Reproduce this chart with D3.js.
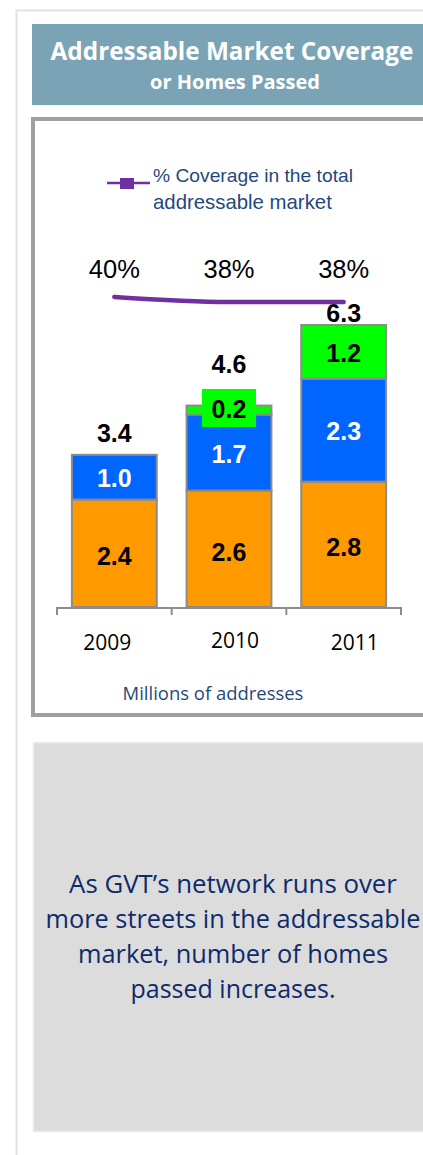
<!DOCTYPE html>
<html><head><meta charset="utf-8">
<script src="https://cdn.jsdelivr.net/npm/d3@7"></script>
<style>html,body{margin:0;padding:0;background:#fff;}svg{display:block;}</style>
</head><body>
<script>
const years = ["2009", "2010", "2011"];
const orangeVals = [2.4, 2.6, 2.8];
const blueVals = [1.0, 1.7, 2.3];
const greenVals = [0, 0.2, 1.2];
const totals = [3.4, 4.6, 6.3];
const coverage = [40, 38, 38];
const coverageLabels = ["40%", "38%", "38%"];
const titleLines = ["Addressable Market Coverage", "or Homes Passed"];
const legendLines = ["% Coverage in the total", "addressable market"];
const noteLines = ["As GVT\u2019s network runs over", "more streets in the addressable", "market, number of homes", "passed increases."];
const unitLabel = "Millions of addresses";

const W = 423, H = 1155;
const svg = d3.select("body").append("svg").attr("width", W).attr("height", H);
const calibri = "'Open Sans', Lato, sans-serif";
const arial = "'Liberation Sans', Arial, sans-serif";

// scale a text's font size so that it spans the target width
function fit(sel, target) {
  sel.each(function () {
    const fs = parseFloat(this.getAttribute("font-size"));
    const w = this.getComputedTextLength();
    if (w > 0) this.setAttribute("font-size", (fs * target / w).toFixed(2));
  });
}

// outer frame
svg.append("line").attr("x1", 16.5).attr("x2", 16.5).attr("y1", 10).attr("y2", H).attr("stroke", "#e2e2e2").attr("stroke-width", 2);
svg.append("line").attr("x1", 16).attr("x2", W).attr("y1", 10.5).attr("y2", 10.5).attr("stroke", "#e2e2e2").attr("stroke-width", 2);

// title box
svg.append("rect").attr("x", 32).attr("y", 24).attr("width", W).attr("height", 81).attr("fill", "#7aa4b5");
fit(svg.append("text").attr("x", 232).attr("y", 60).attr("text-anchor", "middle").attr("fill", "#fff")
  .attr("font-family", calibri).attr("font-weight", "bold").attr("font-size", 22).text(titleLines[0]), 363);
fit(svg.append("text").attr("x", 235).attr("y", 89).attr("text-anchor", "middle").attr("fill", "#fff")
  .attr("font-family", calibri).attr("font-weight", "bold").attr("font-size", 17).text(titleLines[1]), 170);

// chart box
svg.append("rect").attr("x", 33).attr("y", 119).attr("width", W).attr("height", 596)
  .attr("fill", "#fff").attr("stroke", "#a0a0a0").attr("stroke-width", 4);

// scales
const x = d3.scaleBand().domain(years).range([57, 401]).paddingInner(0.26).paddingOuter(0.13);
const y = d3.scaleLinear().domain([0, 6.3]).range([607, 325]);
const yc = d3.scaleLinear().domain([38, 40]).range([302, 297]);
const cxOf = yr => x(yr) + x.bandwidth() / 2;

// stacks
const rows = years.map((yr, i) => ({year: yr, orange: orangeVals[i], blue: blueVals[i], green: greenVals[i]}));
const keys = ["orange", "blue", "green"];
const colors = {orange: "#ff9900", blue: "#0066ff", green: "#00ff00"};
const stack = d3.stack().keys(keys)(rows);
const g = svg.append("g");
stack.forEach(layer => {
  g.selectAll(null).data(layer.filter(d => d[1] - d[0] > 0)).join("rect")
    .attr("x", d => x(d.data.year)).attr("width", x.bandwidth())
    .attr("y", d => y(d[1])).attr("height", d => y(d[0]) - y(d[1]))
    .attr("fill", colors[layer.key]).attr("stroke", "#8c8c8c").attr("stroke-width", 2);
});

// axis
const axis = d3.axisBottom(x).tickSize(0).tickFormat("");
const ax = svg.append("g").attr("transform", "translate(0,608)").call(axis);
ax.select(".domain").attr("stroke", "#8c8c8c").attr("stroke-width", 2).attr("d", "M57,0H401");
const bounds = [57, ...years.slice(1).map(v => x(v) - x.step() * x.paddingInner() / 2), 401];
svg.selectAll(null).data(bounds).join("line")
  .attr("x1", d => d).attr("x2", d => d).attr("y1", 607).attr("y2", 615)
  .attr("stroke", "#8c8c8c").attr("stroke-width", 2);
const yearDx = [-7, 6, 11];
const yearY = [650, 648, 650];
svg.selectAll(null).data(years).join("text")
  .attr("x", (d, i) => cxOf(d) + yearDx[i]).attr("y", (d, i) => yearY[i])
  .attr("text-anchor", "middle").attr("font-family", calibri).attr("font-size", 21).attr("fill", "#000").text(d => d);

// segment labels
const labelFill = {orange: "#000", blue: "#fff", green: "#000"};
stack.forEach(layer => {
  layer.forEach((d, i) => {
    const v = d[1] - d[0];
    if (v <= 0) return;
    const cx = cxOf(d.data.year);
    let cy = (y(d[0]) + y(d[1])) / 2;
    if (layer.key === "green" && v < 0.5) {
      cy = 408;
      svg.append("rect").attr("x", cx - 27).attr("y", 389).attr("width", 54).attr("height", 38).attr("fill", "#00ff00");
    }
    const dyAdj = layer.key === "orange" ? 3 : 1;
    svg.append("text").attr("x", cx).attr("y", cy + dyAdj).attr("dy", "0.36em").attr("text-anchor", "middle")
      .attr("font-family", arial).attr("font-weight", "bold").attr("font-size", 25)
      .attr("fill", labelFill[layer.key]).text(d3.format(".1f")(v));
  });
});

// totals
const totalOffset = [13, 28, 3];
svg.selectAll(null).data(totals).join("text")
  .attr("x", (d, i) => cxOf(years[i])).attr("y", (d, i) => y(d) - totalOffset[i])
  .attr("text-anchor", "middle").attr("font-family", arial).attr("font-weight", "bold").attr("font-size", 25)
  .attr("fill", "#000").text(d => d3.format(".1f")(d));

// coverage line
const line = d3.line().x((d, i) => cxOf(years[i])).y(d => yc(d)).curve(d3.curveMonotoneX);
svg.append("path").datum(coverage).attr("d", line).attr("fill", "none")
  .attr("stroke", "#7030a0").attr("stroke-width", 4.5).attr("stroke-linecap", "round");
svg.selectAll(null).data(coverageLabels).join("text")
  .attr("x", (d, i) => cxOf(years[i])).attr("y", 278)
  .attr("text-anchor", "middle").attr("font-family", arial).attr("font-size", 25.5).attr("fill", "#000").text(d => d);

// legend
svg.append("line").attr("x1", 107).attr("x2", 150).attr("y1", 183).attr("y2", 183).attr("stroke", "#7030a0").attr("stroke-width", 2.5);
svg.append("rect").attr("x", 120).attr("y", 178).attr("width", 14).attr("height", 11).attr("fill", "#7030a0");
const legendW = [200, 179];
const lt = svg.selectAll(null).data(legendLines).join("text")
  .attr("x", 153).attr("y", (d, i) => 182 + i * 27)
  .attr("font-family", arial).attr("font-size", 17).attr("fill", "#1f497d").text(d => d);
lt.each(function (d, i) { fit(d3.select(this), legendW[i]); });

fit(svg.append("text").attr("x", 213).attr("y", 700).attr("text-anchor", "middle")
  .attr("font-family", calibri).attr("font-size", 17).attr("fill", "#1f497d").text(unitLabel), 181);

// note box
svg.append("rect").attr("x", 33.5).attr("y", 742.5).attr("width", W).attr("height", 389)
  .attr("fill", "#dcdcdc").attr("stroke", "#ececec").attr("stroke-width", 1.5);
const noteW = [328, 375, 310, 205];
const nt = svg.selectAll(null).data(noteLines).join("text")
  .attr("x", 233).attr("y", (d, i) => 893 + i * 35).attr("text-anchor", "middle")
  .attr("font-family", calibri).attr("font-size", 24).attr("fill", "#0e2a6b").text(d => d);
nt.each(function (d, i) { fit(d3.select(this), noteW[i]); });
</script>
</body></html>
